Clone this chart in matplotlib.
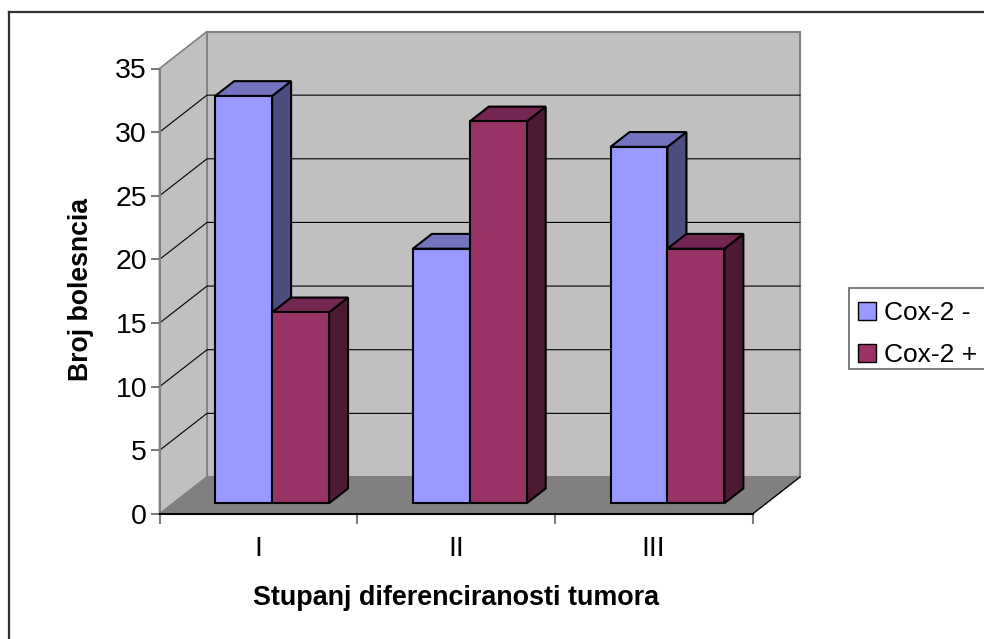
import matplotlib
matplotlib.use("Agg")
import matplotlib.pyplot as plt
from matplotlib.patches import Polygon, Rectangle

categories = ["I", "II", "III"]
coxNeg = [32, 20, 28]
coxPos = [15, 30, 20]
seriesNames = ["Cox-2 -", "Cox-2 +"]
yTicks = [0, 5, 10, 15, 20, 25, 30, 35]

plt.rcParams["font.family"] = ["Liberation Sans", "DejaVu Sans"]

W, H = 984, 639
LEFT, RIGHT, TOP, BOTTOM = 159.5, 752.5, 68.5, 514

# depth of the 3d box, in data units
DEPTH_X = 47.5 / (RIGHT - LEFT) * 3
DEPTH_Y = 37 / (BOTTOM - TOP) * 35
BAR_WIDTH = 0.288
BAR_D0, BAR_D1 = 0.29, 0.69

def shift(x, y, d):
    return (x + DEPTH_X * d, y + DEPTH_Y * d)

def face(ax, pts, color, edge="black", lw=1.5, z=3):
    ax.add_patch(Polygon(pts, closed=True, facecolor=color, edgecolor=edge,
                         linewidth=lw, joinstyle="miter", clip_on=False, zorder=z))

def bar3d(ax, x0, val, front, top, side, z):
    x1 = x0 + BAR_WIDTH
    face(ax, [shift(x1, 0, BAR_D0), shift(x1, 0, BAR_D1), shift(x1, val, BAR_D1), shift(x1, val, BAR_D0)], side, z=z)
    face(ax, [shift(x0, val, BAR_D0), shift(x1, val, BAR_D0), shift(x1, val, BAR_D1), shift(x0, val, BAR_D1)], top, z=z)
    face(ax, [shift(x0, 0, BAR_D0), shift(x1, 0, BAR_D0), shift(x1, val, BAR_D0), shift(x0, val, BAR_D0)], front, z=z)

fig = plt.figure(figsize=(W / 100, H / 100), dpi=100)
ax = fig.add_axes([LEFT / W, 1 - BOTTOM / H, (RIGHT - LEFT) / W, (BOTTOM - TOP) / H])
ax.set_xlim(0, 3)
ax.set_ylim(0, 35)
ax.patch.set_visible(False)

n = len(categories)
top = yTicks[-1]

# walls and floor
wallColor = "#c0c0c0"
wallEdge = "#808080"
face(ax, [shift(0, 0, 1), shift(n, 0, 1), shift(n, top, 1), shift(0, top, 1)], wallColor, wallEdge, 1.5, 1)
face(ax, [shift(0, 0, 0), shift(0, 0, 1), shift(0, top, 1), shift(0, top, 0)], wallColor, wallEdge, 1.2, 1)
face(ax, [shift(0, 0, 0), shift(n, 0, 0), shift(n, 0, 1), shift(0, 0, 1)], "#808080", "#808080", 1, 1.2)

# gridlines on the walls
for t in yTicks[1:-1]:
    xs, ys = zip(shift(0, t, 0), shift(0, t, 1), shift(n, t, 1))
    ax.plot(xs, ys, color="black", lw=0.8, clip_on=False, zorder=2)

# floor edge on the right side
xs, ys = zip(shift(n, 0, 0), shift(n, 0, 1))
ax.plot(xs, ys, color="black", lw=0.9, clip_on=False, zorder=2)

for i in range(n):
    x0 = i + 0.5 - BAR_WIDTH
    bar3d(ax, x0, coxNeg[i], "#9999ff", "#7373bf", "#4d4d80", 3 + i * 2)
    bar3d(ax, x0 + BAR_WIDTH, coxPos[i], "#993366", "#732650", "#4d1a33", 4 + i * 2)

# axes
for s in ["top", "right"]:
    ax.spines[s].set_visible(False)
ax.spines["left"].set_color("#808080")
ax.spines["left"].set_linewidth(1.5)
ax.spines["bottom"].set_color("black")
ax.spines["bottom"].set_linewidth(1.5)
ax.spines["bottom"].set_zorder(20)

ax.set_yticks(yTicks)
ax.tick_params(axis="y", length=6.5, width=1.1, color="#555555", labelsize=20.5, pad=2.5)
ax.set_xticks(range(n + 1))
ax.set_xticklabels([])
ax.set_xticks([i + 0.5 for i in range(n)], labels=categories, minor=True)
ax.tick_params(axis="x", which="major", length=7, width=1.5, color="#808080")
ax.tick_params(axis="x", which="minor", length=0, labelsize=20.5, pad=15.5)

ax.set_ylabel("Broj bolesncia", fontsize=19.2, fontweight="bold", labelpad=15, y=0.505)
ax.set_xlabel("Stupanj diferenciranosti tumora", fontsize=19.4, fontweight="bold", labelpad=17)

# outer frame, open towards the right and the bottom
fig.add_artist(plt.Line2D([9 / W, 9 / W], [0, 1 - 12 / H], color="#303030", lw=1.6))
fig.add_artist(plt.Line2D([9 / W, 1], [1 - 12 / H, 1 - 12 / H], color="#303030", lw=1.6))

# legend box runs off the right edge, so it is drawn apart from the entries
fig.add_artist(Rectangle((849 / W, 1 - 369 / H), 200 / W, 81 / H, transform=fig.transFigure,
                         facecolor="white", edgecolor="#666666", lw=1.2))
handles = [Rectangle((0, 0), 1, 1, facecolor="#9999ff", edgecolor="black", lw=1),
           Rectangle((0, 0), 1, 1, facecolor="#993366", edgecolor="black", lw=1)]
leg = fig.legend(handles, seriesNames, loc="upper left", bbox_to_anchor=(849 / W, 1 - 292 / H),
                 fontsize=19, frameon=False, handlelength=0.68, handleheight=0.65,
                 handletextpad=0.3, labelspacing=0.69, borderpad=0.34, borderaxespad=0)
leg.set_zorder(30)

plt.savefig("out.png", dpi=100)
